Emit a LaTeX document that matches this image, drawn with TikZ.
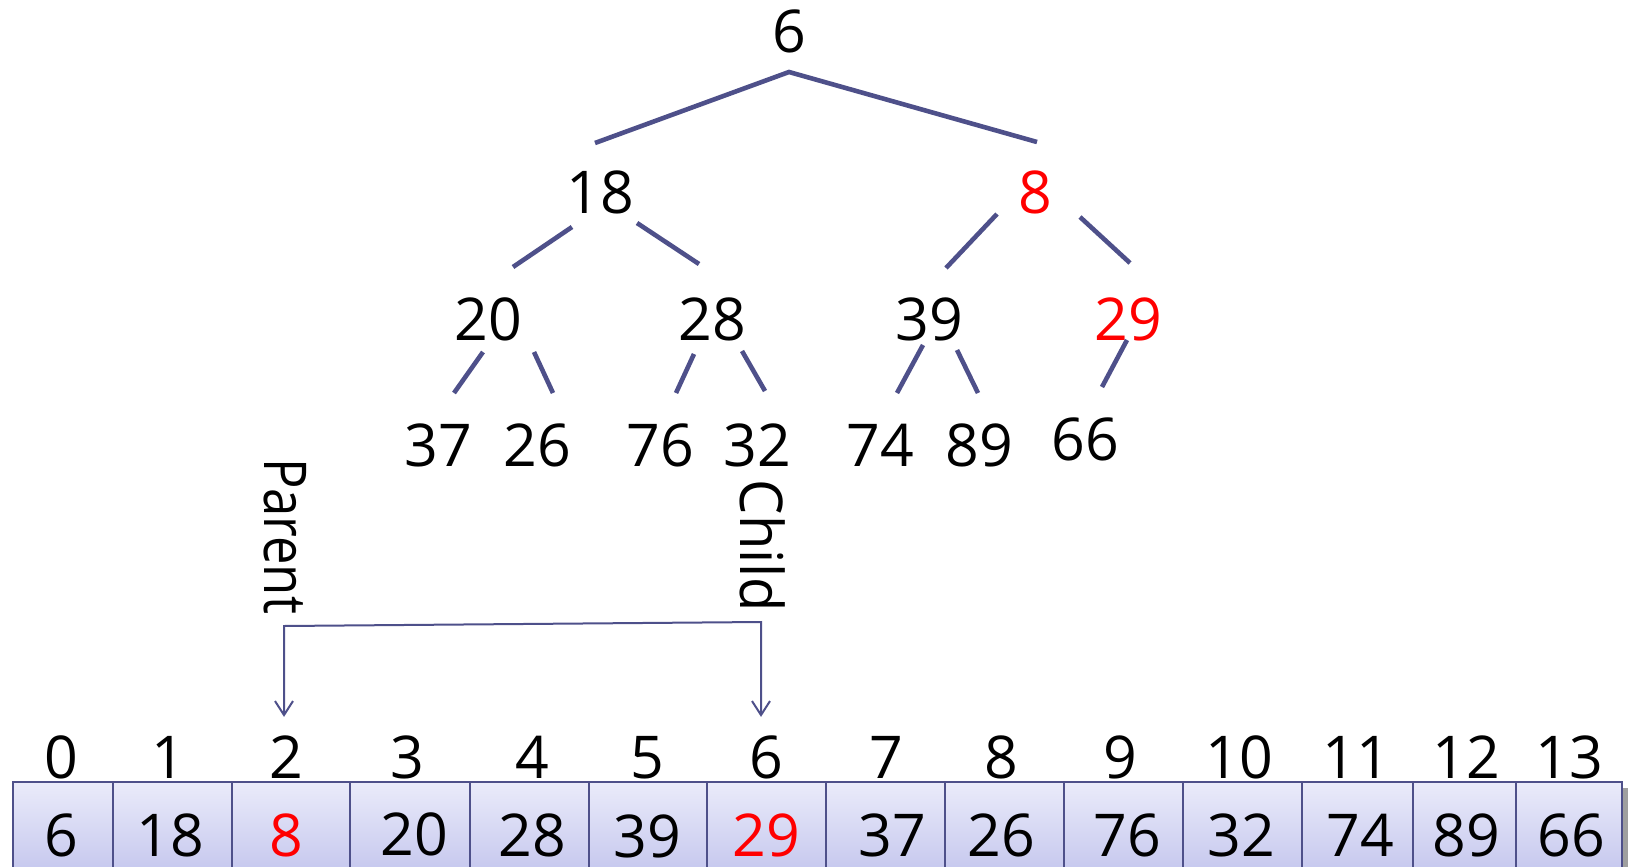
\documentclass[tikz,border=0pt]{standalone}
\usepackage{fontspec}
\usepackage{graphicx}
\setmainfont{Open Sans}
\usetikzlibrary{arrows.meta}
\definecolor{edgeblue}{RGB}{78,80,138}
\definecolor{celltop}{RGB}{234,235,250}
\definecolor{cellbot}{RGB}{192,194,236}
\definecolor{hotred}{RGB}{255,0,0}
\begin{document}
\begin{tikzpicture}[x=0.5pt,y=-0.5pt,
  num/.style={font=\fontsize{29.5}{34}\selectfont, inner sep=0pt, anchor=base},
  hot/.style={text=hotred},
  edge/.style={draw=edgeblue, line width=2.3pt},
  link/.style={draw=edgeblue, line width=1pt, >={Straight Barb[length=7pt,width=9pt]}},
  vlabel/.style={num, anchor=center, rotate=-90},
  cellbox/.style={draw=edgeblue, line width=1pt, top color=celltop, bottom color=cellbot, inner sep=0pt, minimum height=52pt}]
\useasboundingbox (0,0) rectangle (1628,867);
\clip (0,0) rectangle (1628,867);
% shadow of the array
\fill[gray!75] (19,788) rectangle (1629,900);
% array cells
\foreach \l/\r [count=\i from 0] in {13/113,113/232,232/350,350/470,470/589,589/707,707/826,826/945,945/1064,1064/1183,1183/1302,1302/1413,1413/1516,1516/1622}
  \node[cellbox, minimum width={(\r-\l)*0.5pt}] (cell\i) at ({(\l+\r)/2},834) {};
% values in the array
\foreach \v/\x/\y/\c [count=\i from 0] in {6/61/856/black,18/170/856/black,8/286/856/hotred,20/414/855/black,28/532/856/black,39/647/857/black,29/766/856/hotred,37/892/856/black,26/1001/856/black,76/1127/856/black,32/1241/856/black,74/1360/856/black,89/1466/856/black,66/1571/856/black}
  \node[num, text=\c] (val\i) at (\x,\y) {\v};
% indices
\foreach \x [count=\i from 0] in {61,168,286,407,532,647,766,886,1001,1120,1239,1356,1466,1569}
  \node[num] (idx\i) at (\x,778) {\i};
% tree
\node[num] (t6) at (789,52) {6};
\node[num] (t18) at (600,213) {18};
\node[num, hot] (t8) at (1035,213) {8};
\node[num] (t20) at (488,340) {20};
\node[num] (t28) at (712,340) {28};
\node[num] (t39) at (929,340) {39};
\node[num, hot] (t29) at (1128,340) {29};
\node[num] (t37) at (438,466) {37};
\node[num] (t26) at (537,466) {26};
\node[num] (t76) at (660,466) {76};
\node[num] (t32) at (757,466) {32};
\node[num] (t74) at (880,466) {74};
\node[num] (t89) at (979,466) {89};
\node[num] (t66) at (1085,460) {66};
% tree edges
\draw[edge] (595,143) -- (789,72) -- (1037,142);
\draw[edge] (572,227) -- (513,267);
\draw[edge] (637,223) -- (699,264);
\draw[edge] (997,214) -- (946,268);
\draw[edge] (1080,217) -- (1130,263);
\draw[edge] (483,352) -- (454,393);
\draw[edge] (534,352) -- (553,393);
\draw[edge] (694,354) -- (676,393);
\draw[edge] (742,351) -- (765,391);
\draw[edge] (923,345) -- (897,393);
\draw[edge] (957,350) -- (978,393);
\draw[edge] (1127,340) -- (1102,387);
% parent / child labels
\node[vlabel] (parent) at (285,536) {\scalebox{0.86}[1]{Parent}};
\node[vlabel] (child) at (763,546) {\scalebox{0.95}[1]{Child}};
% connector
\coordinate (pl) at (284,626);
\coordinate (pr) at (761,622);
\draw[link, <->, shorten <=9pt, shorten >=9pt] (pl |- idx2.north) -- (pl) -- (pr) -- (pr |- idx6.north);
\end{tikzpicture}
\end{document}
